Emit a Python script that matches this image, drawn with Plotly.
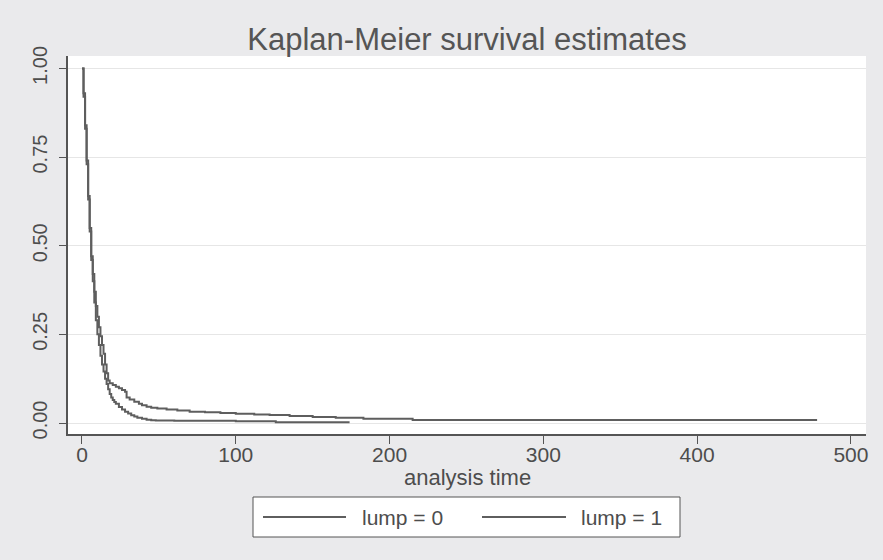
import plotly.graph_objects as go

# Kaplan-Meier step estimates
lump0_time = [0, 1, 2, 3, 4, 5, 6, 7, 8, 9, 10, 11, 12, 13, 14, 15, 16, 17, 18, 20, 22, 24, 26,
              28, 29, 31, 34, 37, 39, 42, 45, 49, 55, 62, 70, 80, 90, 100, 112, 122, 135, 150,
              165, 183, 215, 478]
lump0_surv = [1.0, 0.93, 0.84, 0.74, 0.64, 0.55, 0.47, 0.42, 0.37, 0.33, 0.30, 0.27, 0.245, 0.22,
              0.195, 0.165, 0.14, 0.12, 0.112, 0.107, 0.102, 0.098, 0.093, 0.088, 0.072, 0.066,
              0.060, 0.054, 0.050, 0.046, 0.043, 0.041, 0.038, 0.035, 0.032, 0.030, 0.028, 0.026,
              0.024, 0.0225, 0.020, 0.017, 0.015, 0.012, 0.0085, 0.0085]

lump1_time = [0, 1, 2, 3, 4, 5, 6, 7, 8, 9, 10, 11, 12, 13, 14, 15, 16, 17, 18, 19, 20, 21, 22,
              24, 26, 28, 30, 32, 34, 36, 39, 42, 45, 48, 60, 100, 126, 174]
lump1_surv = [1.0, 0.92, 0.83, 0.73, 0.63, 0.54, 0.46, 0.40, 0.34, 0.29, 0.25, 0.22, 0.19, 0.165,
              0.145, 0.125, 0.11, 0.095, 0.082, 0.072, 0.065, 0.059, 0.054, 0.045, 0.038, 0.032,
              0.027, 0.022, 0.018, 0.015, 0.012, 0.0095, 0.008, 0.007, 0.0066, 0.005, 0.002, 0.002]

series_names = ["lump = 0", "lump = 1"]
x_ticks = [0, 100, 200, 300, 400, 500]
y_ticks = [0.0, 0.25, 0.5, 0.75, 1.0]
y_tick_labels = ["0.00", "0.25", "0.50", "0.75", "1.00"]

LINE = "#5e5e5e"
TEXT = "#4d4d4d"
AXIS = "#555555"
FONT = "Liberation Sans, Arial, Helvetica, sans-serif"

# plot area in pixels (for placing the legend box below it)
L, R, T, B = 68, 866, 56, 434
W, H = R - L, B - T


def px(xp):
    return (xp - L) / W


def py(yp):
    return (B - yp) / H


fig = go.Figure()
fig.add_trace(go.Scatter(x=lump0_time, y=lump0_surv, mode="lines", line_shape="hv",
                         line=dict(color=LINE, width=2), name=series_names[0], showlegend=False))
fig.add_trace(go.Scatter(x=lump1_time, y=lump1_surv, mode="lines", line_shape="hv",
                         line=dict(color=LINE, width=2), name=series_names[1], showlegend=False))

# legend drawn as a framed key under the plot
shapes = [
    dict(type="rect", xref="paper", yref="paper", x0=px(253), x1=px(680), y0=py(537), y1=py(497),
         line=dict(color=AXIS, width=1), fillcolor="white", layer="above"),
    dict(type="line", xref="paper", yref="paper", x0=px(263), x1=px(346), y0=py(517), y1=py(517),
         line=dict(color=LINE, width=2)),
    dict(type="line", xref="paper", yref="paper", x0=px(482), x1=px(566), y0=py(517), y1=py(517),
         line=dict(color=LINE, width=2)),
]
annotations = [
    dict(text=series_names[0], xref="paper", yref="paper", x=px(360), y=py(517),
         xanchor="left", yanchor="middle", showarrow=False, font=dict(size=21, color=TEXT)),
    dict(text=series_names[1], xref="paper", yref="paper", x=px(579), y=py(517),
         xanchor="left", yanchor="middle", showarrow=False, font=dict(size=21, color=TEXT)),
    dict(text="analysis time", xref="paper", yref="paper", x=0.5, y=py(478),
         xanchor="center", yanchor="middle", showarrow=False, font=dict(size=22, color=TEXT)),
]

fig.update_layout(
    width=883, height=560,
    margin=dict(l=L, r=883 - R, t=T, b=560 - B),
    paper_bgcolor="#eaeaec",
    plot_bgcolor="white",
    font=dict(family=FONT, color=TEXT, size=20),
    title=dict(text="Kaplan-Meier survival estimates", x=(247 + 687) / 2 / 883, xref="container",
               y=1 - 39 / 560, yref="container", yanchor="middle", xanchor="center",
               font=dict(size=31, color="#555555")),
    showlegend=False,
    shapes=shapes,
    annotations=annotations,
)
fig.update_xaxes(range=[-9.1, 509.8], tickvals=x_ticks, showgrid=False, zeroline=False,
                 showline=True, linecolor=AXIS, linewidth=1.5, ticks="outside",
                 ticklen=8, tickcolor=AXIS, tickfont=dict(size=21), ticklabelstandoff=-7)
fig.update_yaxes(range=[-0.031, 1.035], tickvals=y_ticks, ticktext=y_tick_labels,
                 tickangle=-90, showgrid=True, gridcolor="#e6e6e6", gridwidth=1,
                 zeroline=False, showline=True, linecolor=AXIS, linewidth=1.5,
                 ticks="outside", ticklen=7, tickcolor=AXIS, tickfont=dict(size=20),
                 ticklabelstandoff=4)

fig.write_html("out.html")
